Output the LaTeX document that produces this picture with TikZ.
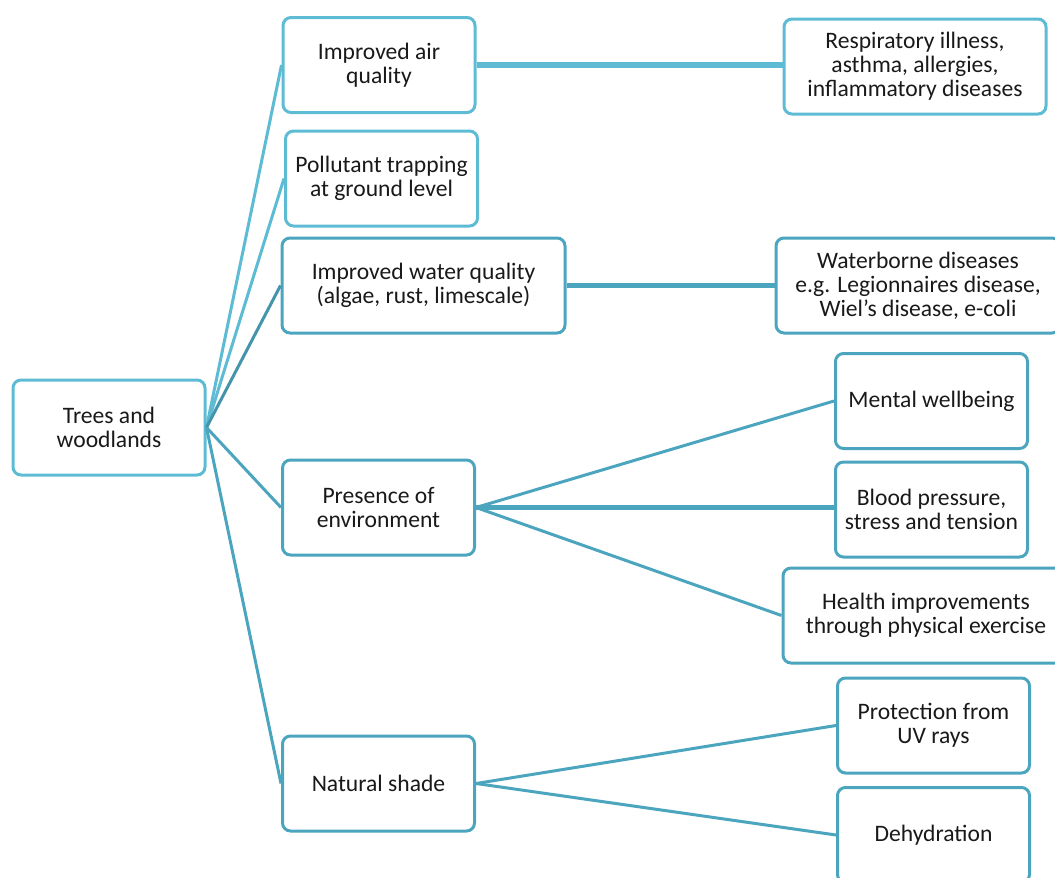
\documentclass[tikz,border=0pt]{standalone}
\usepackage{fontspec}
\setmainfont{Carlito}
\usetikzlibrary{calc}
\definecolor{lightteal}{RGB}{93,188,212}
\definecolor{darkteal}{RGB}{76,165,190}
\tikzset{%
  mybox/.style={draw=darkteal, line width=1.5pt, rounded corners=4pt, align=center,
    minimum width=96pt, minimum height=47.5pt, inner sep=2pt,
    font=\fontsize{11.8}{12}\selectfont, text=black!90},
  mylight/.style={mybox, draw=lightteal},
  myedge/.style={draw=darkteal, line width=1.5pt},
  mythick/.style={myedge, line width=2.6pt}
}

\begin{document}
\begin{tikzpicture}[x=0.5pt, y=-0.5pt]
  \useasboundingbox (0,0) rectangle (1055,878);
  \node[mylight] (root) at (109,427.5) {Trees and\\woodlands};
  \node[mylight] (air) at (379,65) {Improved air\\quality};
  \node[mylight] (pollut) at (381.5,178.5) {Pollutant trapping\\at ground level};
  \node[mybox, minimum width=141.5pt] (water) at (423.5,285.5) {Improved water quality\\(algae, rust, limescale)};
  \node[mybox] (presence) at (378.5,507.5) {Presence of\\environment};
  \node[mybox] (shade) at (378.5,783.5) {Natural shade};
  \node[mylight, minimum width=131pt] (resp) at (915,66.5) {Respiratory illness,\\asthma, allergies,\\inflammatory diseases};
  \node[mybox, minimum width=142pt] (waterborne) at (918,285.5) {Waterborne diseases\\e.g. Legionnaires disease,\\Wiel’s disease, e-coli};
  \node[mybox] (mental) at (931.5,401) {Mental wellbeing};
  \node[mybox] (blood) at (931.5,509.5) {Blood pressure,\\stress and tension};
  \node[mybox, minimum width=143pt] (health) at (926,615.5) {Health improvements\\through physical exercise};
  \node[mybox] (uv) at (933.5,725.5) {Protection from\\UV rays};
  \node[mybox] (dehyd) at (933.5,835) {Dehydration};

  \draw [myedge, draw=lightteal] (root.east) -- (air.west);
  \draw [myedge, draw=lightteal] (root.east) -- (pollut.west);
  \draw [myedge, draw=darkteal!90!black] (root.east) -- (water.west);
  \draw [myedge] (root.east) -- (presence.west);
  \draw [myedge] (root.east) -- (shade.west);
  \draw [mythick, draw=lightteal] (air.east) -- (air.east -| resp.west);
  \draw [mythick] (water.east) -- (water.east -| waterborne.west);
  \draw [myedge] (presence.east) -- (mental.west);
  \draw [mythick] (presence.east) -- (presence.east -| blood.west);
  \draw [myedge] (presence.east) -- (health.west);
  \draw [myedge] (shade.east) -- (uv.west);
  \draw [myedge] (shade.east) -- (dehyd.west);
\end{tikzpicture}
\end{document}
